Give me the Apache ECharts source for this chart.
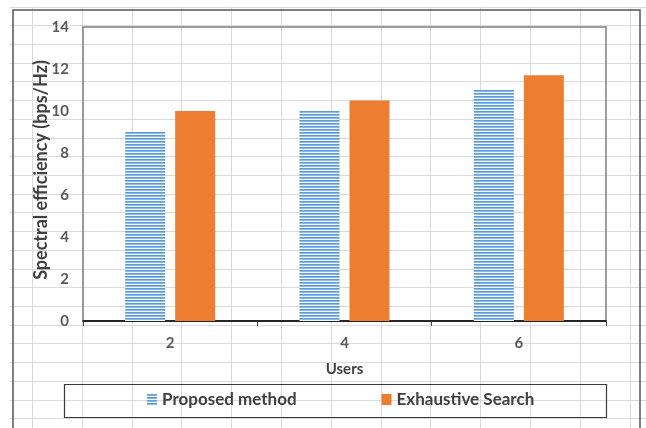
<!DOCTYPE html>
<html>
<head>
<meta charset="utf-8">
<script src="https://cdn.jsdelivr.net/npm/echarts@6/dist/echarts.min.js"></script>
<style>
  html, body { margin: 0; padding: 0; background: #ffffff; }
  #chart { width: 646px; height: 428px; }
</style>
</head>
<body>
<div id="chart"></div>
<script>
// Number of users on the x axis
const users = ['2', '4', '6'];
// Spectral efficiency (bps/Hz) per method
const proposedMethod = [9, 10, 11];
const exhaustiveSearch = [10, 10.5, 11.7];
// Value axis ticks
const yMin = 0;
const yMax = 14;
const yStep = 2;

const FONT = "Lato, 'Liberation Sans', Arial, sans-serif";

// Horizontal-stripe fill for the "Proposed method" bars
function stripePattern() {
  const c = document.createElement('canvas');
  c.width = 8;
  c.height = 3;
  const g = c.getContext('2d');
  g.fillStyle = '#f2f7fc';
  g.fillRect(0, 0, 8, 3);
  g.fillStyle = '#5b9bd5';
  g.fillRect(0, 0, 8, 1);
  g.fillStyle = '#8db8e2';
  g.fillRect(0, 1, 8, 1);
  return c;
}

// Worksheet cell lines behind the chart
function sheetLines() {
  const els = [];
  const colX0 = 32, colDx = 49.8, rowY0 = 6.5, rowDy = 18.72;
  for (let x = colX0; x < 646; x += colDx) {
    els.push({
      type: 'line', z: -10, silent: true,
      shape: { x1: Math.round(x) + 0.5, y1: 6.5, x2: Math.round(x) + 0.5, y2: 428 },
      style: { stroke: '#dadada', lineWidth: 1 }
    });
  }
  for (let y = rowY0; y < 428; y += rowDy) {
    els.push({
      type: 'line', z: -10, silent: true,
      shape: { x1: 10, y1: Math.round(y) + 0.5, x2: 646, y2: Math.round(y) + 0.5 },
      style: { stroke: '#dadada', lineWidth: 1 }
    });
  }
  // chart area frame
  els.push({
    type: 'rect', z: -5, silent: true,
    shape: { x: 13, y: 10, width: 627, height: 440 },
    style: { fill: 'none', stroke: '#555555', lineWidth: 1.5 }
  });
  // legend frame
  els.push({
    type: 'rect', z: -5, silent: true,
    shape: { x: 64.5, y: 384.5, width: 542, height: 33 },
    style: { fill: 'none', stroke: '#3a3a3a', lineWidth: 1.2 }
  });
  return els;
}

const chart = echarts.init(document.getElementById('chart'), null, { renderer: 'canvas' });

chart.setOption({
  backgroundColor: 'transparent',
  animation: false,
  graphic: sheetLines(),
  grid: {
    left: 83, top: 27, width: 523, height: 294,
    show: true, borderColor: '#7f7f7f', borderWidth: 1.5,
    backgroundColor: 'transparent'
  },
  legend: {
    left: 147, top: 391,
    padding: 0,
    itemWidth: 10, itemHeight: 11, itemGap: 85,
    icon: 'rect',
    textStyle: { fontFamily: FONT, fontSize: 17, fontWeight: 'bold', color: '#404040' },
    data: ['Proposed method', 'Exhaustive Search']
  },
  xAxis: {
    type: 'category',
    data: users,
    name: 'Users',
    nameLocation: 'middle',
    nameGap: 41,
    nameTextStyle: { fontFamily: FONT, fontSize: 15, fontWeight: 'bold', color: '#404040' },
    axisLine: { show: true, lineStyle: { color: '#000000', width: 1.5 } },
    axisTick: { show: true, length: 5, lineStyle: { color: '#404040', width: 1 } },
    axisLabel: { margin: 15, fontFamily: FONT, fontSize: 15, fontWeight: 'bold', color: '#595959' },
    splitLine: { show: false }
  },
  yAxis: {
    type: 'value',
    min: yMin, max: yMax, interval: yStep,
    name: 'Spectral efficiency (bps/Hz)',
    nameLocation: 'middle',
    nameRotate: 90,
    nameGap: 33,
    nameMoveOverlap: false,
    nameTextStyle: { fontFamily: FONT, fontSize: 18, fontWeight: 'bold', color: '#404040', padding: [0, 0, 0, 8] },
    axisLine: { show: false },
    axisTick: { show: false },
    axisLabel: { margin: 14, fontFamily: FONT, fontSize: 15, fontWeight: 'bold', color: '#595959' },
    splitLine: { show: false }
  },
  series: [
    {
      name: 'Proposed method',
      type: 'bar',
      data: proposedMethod,
      barWidth: 40,
      barGap: '25%',
      itemStyle: { color: { image: stripePattern(), repeat: 'repeat' } }
    },
    {
      name: 'Exhaustive Search',
      type: 'bar',
      data: exhaustiveSearch,
      barWidth: 40,
      barGap: '25%',
      itemStyle: { color: '#ed7d31' }
    }
  ]
});
</script>
</body>
</html>
